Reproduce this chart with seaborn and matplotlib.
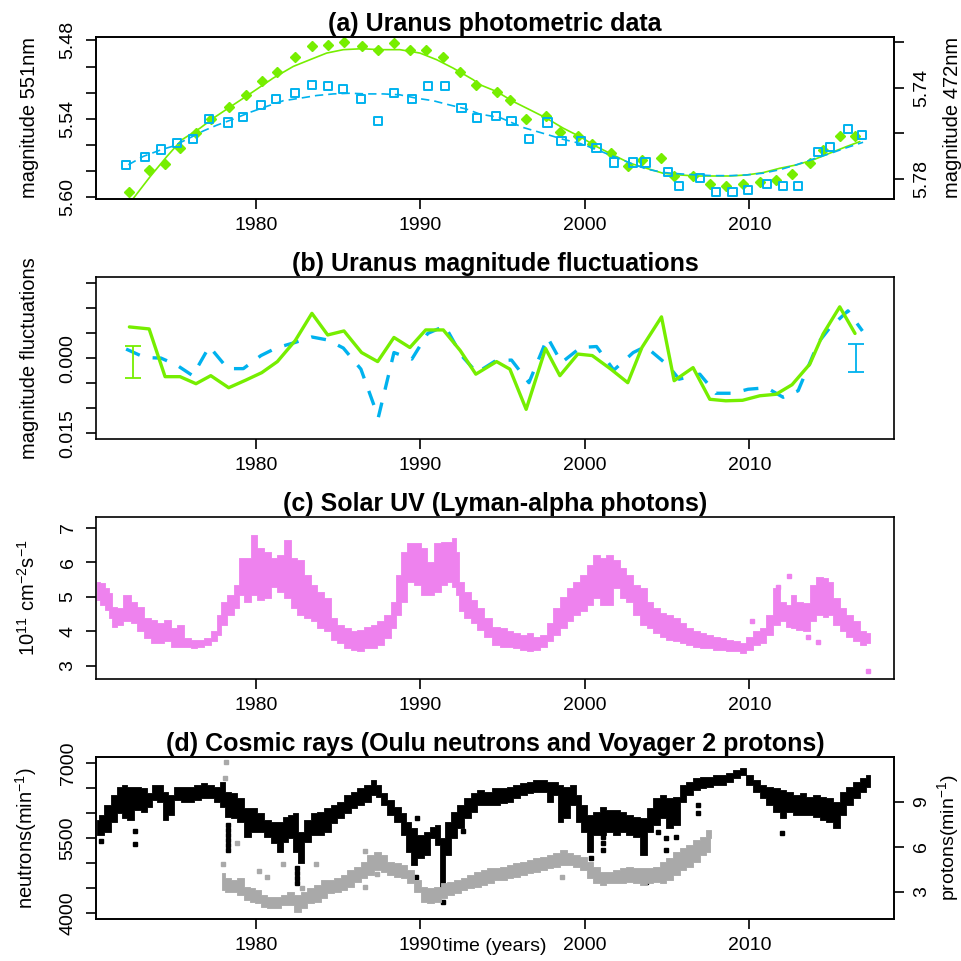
import matplotlib
matplotlib.use("Agg")
import matplotlib.pyplot as plt
import numpy as np
import seaborn as sns

GREEN = "#76EE00"
BLUE = "#00B2EE"
PINK = "#EE82EE"
GREY = "#A9A9A9"

XLIM = (1970.27, 2018.8)
XTICKS = [1980, 1990, 2000, 2010]

# ---------------- (a) Uranus photometric data ----------------
green_years = [1972.3, 1973.5, 1974.47, 1975.38, 1976.35, 1977.25, 1978.34, 1979.37, 1980.35, 1981.3,
               1982.39, 1983.4, 1984.36, 1985.35, 1986.42, 1987.4, 1988.39, 1989.36, 1990.32, 1991.39,
               1992.42, 1993.37, 1994.63, 1995.44, 1996.43, 1997.61, 1998.48, 1999.57, 2000.45, 2001.58,
               2002.61, 2003.47, 2004.66, 2005.43, 2006.58, 2007.6, 2008.57, 2009.59, 2010.64, 2011.63,
               2012.6, 2013.68, 2014.49, 2015.5, 2016.43]
green_mag = [5.596, 5.579, 5.5745, 5.562, 5.551, 5.540, 5.5313, 5.522, 5.5114, 5.5038,
             5.493, 5.484, 5.4838, 5.481, 5.484, 5.4871, 5.4823, 5.4871, 5.4871, 5.493,
             5.5038, 5.5145, 5.5196, 5.5254, 5.5402, 5.5377, 5.550, 5.553, 5.5589, 5.5663,
             5.576, 5.5714, 5.5699, 5.5837, 5.5834, 5.5896, 5.5911, 5.5896, 5.588, 5.5867,
             5.5819, 5.574, 5.5638, 5.5528, 5.5528]
blue_years = [1972.1, 1973.25, 1974.22, 1975.18, 1976.15, 1977.16, 1978.28, 1979.23, 1980.3, 1981.22,
              1982.37, 1983.39, 1984.36, 1985.31, 1986.38, 1987.44, 1988.39, 1989.48, 1990.44, 1991.49,
              1992.5, 1993.43, 1994.59, 1995.54, 1996.6, 1997.73, 1998.58, 1999.74, 2000.71, 2001.76,
              2002.94, 2003.69, 2005.07, 2005.73, 2006.99, 2007.96, 2008.98, 2009.93, 2011.05, 2012.06,
              2012.97, 2014.2, 2014.89, 2016.0, 2016.88]
blue_mag = [5.7742, 5.7706, 5.7672, 5.7645, 5.7627, 5.7538, 5.7553, 5.7528, 5.7476, 5.7449,
            5.7421, 5.7387, 5.7394, 5.7404, 5.7449, 5.7546, 5.7421, 5.7449, 5.7394, 5.7394,
            5.7489, 5.7534, 5.7526, 5.7546, 5.7626, 5.7553, 5.7636, 5.7636, 5.7664, 5.7729,
            5.7729, 5.7729, 5.777, 5.7831, 5.7798, 5.7859, 5.7859, 5.785, 5.7824, 5.7831,
            5.7831, 5.7682, 5.7662, 5.7583, 5.7608]

green_fit_years = [1972.5, 1973.56, 1974.57, 1975.48, 1976.6, 1977.4, 1978.62, 1979.84, 1981.05, 1982.27,
                   1983.28, 1984.3, 1985.31, 1986.43, 1987.54, 1988.75, 1989.97, 1990.99, 1991.99, 1993.21,
                   1993.62, 1994.63, 1995.64, 1996.66, 1997.67, 1998.68, 1999.7, 2000.71, 2001.72, 2002.74,
                   2003.75, 2004.76, 2005.78, 2006.79, 2007.8, 2008.81, 2009.83, 2010.84, 2011.85, 2012.87,
                   2013.88, 2014.89, 2015.91, 2016.72]
green_fit = [5.6015, 5.5842, 5.5689, 5.5561, 5.5471, 5.5395, 5.5293, 5.5191, 5.5088, 5.4999,
             5.4948, 5.4897, 5.4871, 5.4864, 5.4871, 5.4871, 5.4897, 5.4948, 5.5012, 5.5101,
             5.5139, 5.5191, 5.5267, 5.5331, 5.5395, 5.5471, 5.5536, 5.5612, 5.5676, 5.5739,
             5.5778, 5.5816, 5.5829, 5.5837, 5.5837, 5.5837, 5.5829, 5.5811, 5.5778, 5.5752,
             5.5714, 5.5663, 5.5612, 5.5574]
blue_fit_years = [1972.24, 1973.15, 1974.27, 1974.97, 1975.99, 1976.8, 1977.61, 1978.62, 1979.64, 1980.65,
                  1981.66, 1982.67, 1983.69, 1984.7, 1985.71, 1986.73, 1987.74, 1988.75, 1989.77, 1990.78,
                  1991.79, 1992.81, 1993.62, 1994.83, 1996.25, 1997.67, 1998.68, 1999.7, 2000.71, 2001.72,
                  2002.74, 2003.75, 2004.76, 2005.78, 2006.79, 2007.8, 2008.81, 2009.83, 2010.84, 2011.85,
                  2012.87, 2013.88, 2014.89, 2015.91, 2016.92]
blue_fit = [5.7739, 5.7702, 5.7672, 5.7657, 5.762, 5.759, 5.7565, 5.7538, 5.7508, 5.7482,
            5.7457, 5.7446, 5.7434, 5.7427, 5.7424, 5.7427, 5.7427, 5.7431, 5.7446, 5.7457,
            5.7476, 5.7494, 5.7516, 5.7531, 5.7575, 5.7605, 5.7627, 5.7645, 5.7672, 5.7702,
            5.7731, 5.7758, 5.7773, 5.7779, 5.7784, 5.7787, 5.7787, 5.7784, 5.7776, 5.7761,
            5.7739, 5.7714, 5.769, 5.7664, 5.764]

# ---------------- (b) magnitude fluctuations ----------------
green_fluct = [-0.0062, -0.0058, 0.0037, 0.0037, 0.0051, 0.0035, 0.0059, 0.0044, 0.0029, 0.0007,
               -0.0035, -0.0089, -0.0046, -0.0054, -0.0011, 0.0007, -0.0041, -0.0021, -0.0056, -0.0056,
               -0.0015, 0.0032, 0.0007, 0.0022, 0.0102, -0.0019, 0.0035, -0.0008, -0.0005, 0.0022,
               0.0049, -0.0021, -0.0082, 0.0045, 0.0019, 0.0082, 0.0085, 0.0084, 0.0075, 0.0072,
               0.0053, 0.0012, -0.0048, -0.0102, -0.0049]
blue_fluct = [-0.0018, -0.0001, 0.0000, 0.0014, 0.0035, -0.0023, 0.0021, 0.0021, -0.0005, -0.0020,
              -0.0031, -0.0042, -0.0036, -0.0020, 0.0022, 0.0118, -0.0011, 0.0002, -0.0049, -0.0064,
              -0.0005, 0.0029, 0.0005, 0.0004, 0.0049, -0.0041, 0.0009, -0.0021, -0.0023, 0.0024,
              -0.0011, -0.0023, 0.0015, 0.0042, 0.0032, 0.0070, 0.0070, 0.0062, 0.0059, 0.0078,
              0.0065, -0.0031, -0.0060, -0.0094, -0.0054]
err_green = (1972.5, 0.00075, 0.00315)   # year, centre, half width
err_blue = (2016.5, -0.0001, 0.0028)

# ---------------- (c) Solar UV, Lyman-alpha (band envelope) ----------------
uv_years = [1970.35, 1970.66, 1970.96, 1971.17, 1971.37, 1971.67, 1972.18, 1972.58, 1972.99, 1973.39,
            1973.80, 1974.21, 1974.61, 1975.02, 1975.42, 1975.83, 1976.23, 1976.64, 1977.04, 1977.45,
            1977.75, 1978.05, 1978.46, 1978.87, 1979.07, 1979.47, 1979.88, 1980.28, 1980.69, 1981.09,
            1981.50, 1981.90, 1982.31, 1982.72, 1983.12, 1983.53, 1983.93, 1984.34, 1984.74, 1985.15,
            1985.55, 1985.96, 1986.36, 1986.77, 1987.17, 1987.58, 1987.98, 1988.39, 1988.69, 1989.00,
            1989.40, 1989.81, 1990.21, 1990.62, 1991.02, 1991.43, 1991.83, 1992.04, 1992.24, 1992.44,
            1992.85, 1993.25, 1993.66, 1994.06, 1994.63, 1995.04, 1995.44, 1995.85, 1996.25, 1996.66,
            1997.06, 1997.47, 1997.87, 1998.28, 1998.68, 1999.09, 1999.49, 1999.90, 2000.30, 2000.71,
            2001.11, 2001.52, 2001.92, 2002.33, 2002.73, 2003.14, 2003.55, 2003.95, 2004.36, 2004.76,
            2005.17, 2005.57, 2005.98, 2006.38, 2006.79, 2007.19, 2007.60, 2008.00, 2008.41, 2008.81,
            2009.22, 2009.63, 2010.03, 2010.44, 2010.84, 2011.25, 2011.65, 2012.06, 2012.46, 2012.66,
            2013.07, 2013.48, 2013.88, 2014.29, 2014.69, 2014.89, 2015.30, 2015.70, 2016.11, 2016.51,
            2016.92, 2017.33]
uv_high = [5.44, 5.39, 5.24, 5.10, 4.71, 4.66, 5.05, 4.86, 4.71, 4.37,
           4.32, 4.23, 4.32, 4.08, 4.18, 3.79, 3.74, 3.74, 3.79, 3.99,
           4.47, 4.86, 5.05, 5.34, 6.11, 6.11, 6.79, 6.40, 6.31, 6.11,
           6.21, 6.64, 6.11, 6.06, 5.63, 5.34, 5.15, 4.95, 4.37, 4.18,
           4.08, 3.99, 4.03, 4.13, 4.18, 4.28, 4.47, 4.86, 5.63, 6.31,
           6.55, 6.55, 6.40, 6.02, 6.55, 6.60, 6.60, 6.69, 6.31, 5.44,
           5.15, 4.90, 4.66, 4.37, 4.13, 4.08, 3.99, 3.94, 3.89, 3.94,
           3.84, 3.89, 4.23, 4.66, 5.00, 5.24, 5.44, 5.63, 5.92, 6.21,
           6.11, 6.21, 6.06, 5.82, 5.63, 5.34, 5.24, 4.86, 4.66, 4.52,
           4.47, 4.37, 4.23, 4.08, 3.99, 3.94, 3.89, 3.84, 3.79, 3.74,
           3.70, 3.65, 3.84, 3.99, 4.08, 4.47, 5.24, 4.86, 4.76, 5.05,
           4.86, 4.81, 5.34, 5.58, 5.53, 5.44, 4.95, 4.66, 4.47, 4.28,
           3.99, 3.94]
uv_low = [4.90, 4.76, 4.61, 4.37, 4.13, 4.18, 4.28, 4.23, 3.99, 3.79,
          3.65, 3.65, 3.70, 3.55, 3.55, 3.55, 3.52, 3.55, 3.60, 3.70,
          3.89, 4.18, 4.47, 4.66, 5.05, 4.86, 5.05, 4.90, 4.95, 5.29,
          5.15, 4.95, 4.66, 4.47, 4.37, 4.28, 4.08, 3.99, 3.74, 3.65,
          3.50, 3.46, 3.43, 3.50, 3.50, 3.60, 3.79, 4.08, 4.47, 4.86,
          5.44, 5.34, 5.05, 5.05, 5.15, 5.34, 5.44, 5.29, 5.05, 4.57,
          4.37, 4.23, 4.03, 3.84, 3.60, 3.55, 3.55, 3.50, 3.46, 3.41,
          3.46, 3.55, 3.70, 3.89, 4.08, 4.28, 4.47, 4.57, 4.76, 4.95,
          4.76, 4.76, 5.24, 4.95, 4.86, 4.47, 4.18, 4.08, 3.94, 3.84,
          3.74, 3.70, 3.65, 3.60, 3.55, 3.52, 3.50, 3.46, 3.46, 3.43,
          3.41, 3.36, 3.46, 3.60, 3.65, 3.89, 4.18, 4.28, 4.13, 4.08,
          4.03, 3.99, 4.28, 4.47, 4.42, 4.47, 4.18, 3.99, 3.84, 3.70,
          3.60, 3.65]
uv_odd_years = [2012.43, 2011.75, 2010.17, 2013.58, 2014.18, 2017.22]
uv_odd = [5.60, 5.27, 4.29, 3.84, 3.68, 2.85]

# ---------------- (d) Oulu neutrons (envelope) and Voyager 2 protons ----------------
neutron_years = [1970.35, 1970.56, 1970.96, 1971.37, 1971.67, 1971.98, 1972.38, 1972.79, 1973.19, 1973.50,
                 1973.80, 1974.21, 1974.51, 1974.81, 1975.22, 1975.62, 1976.03, 1976.43, 1976.84, 1977.24,
                 1977.65, 1977.95, 1978.26, 1978.66, 1979.07, 1979.47, 1979.88, 1980.28, 1980.69, 1981.09,
                 1981.50, 1981.80, 1982.11, 1982.41, 1982.72, 1983.12, 1983.53, 1983.93, 1984.34, 1984.74,
                 1985.15, 1985.55, 1985.96, 1986.36, 1986.77, 1987.17, 1987.48, 1987.78, 1988.19, 1988.59,
                 1989.00, 1989.30, 1989.61, 1990.01, 1990.42, 1990.72, 1991.02, 1991.33, 1991.63, 1992.04,
                 1992.44, 1992.85, 1993.25, 1993.66, 1994.06, 1994.63, 1995.04, 1995.44, 1995.85, 1996.25,
                 1996.66, 1997.06, 1997.47, 1997.87, 1998.28, 1998.48, 1998.89, 1999.29, 1999.59, 1999.90,
                 2000.30, 2000.71, 2001.11, 2001.52, 2001.92, 2002.33, 2002.73, 2003.14, 2003.55, 2003.95,
                 2004.36, 2004.76, 2005.17, 2005.57, 2005.98, 2006.38, 2006.79, 2007.19, 2007.60, 2008.00,
                 2008.41, 2008.81, 2009.22, 2009.63, 2010.03, 2010.44, 2010.84, 2011.25, 2011.65, 2012.06,
                 2012.46, 2012.87, 2013.27, 2013.68, 2014.08, 2014.49, 2014.89, 2015.30, 2015.70, 2016.11,
                 2016.51, 2016.92, 2017.33]
neutron_high = [5866, 5966, 6166, 6366, 6533, 6566, 6533, 6533, 6499, 6399,
                6566, 6566, 6433, 6366, 6533, 6533, 6533, 6566, 6599, 6566,
                6533, 6633, 6433, 6399, 6299, 6099, 6099, 5999, 5866, 5833,
                5833, 5933, 5966, 5999, 5633, 5866, 5999, 6033, 6099, 6166,
                6233, 6366, 6433, 6499, 6566, 6666, 6566, 6399, 6266, 6133,
                5999, 5833, 5699, 5566, 5633, 5733, 5766, 5499, 5833, 6033,
                6166, 6299, 6399, 6466, 6433, 6499, 6499, 6533, 6566, 6599,
                6633, 6666, 6666, 6633, 6633, 6566, 6533, 6566, 6366, 6166,
                5966, 6033, 6133, 6066, 6066, 6033, 5966, 5933, 5899, 6099,
                6299, 6366, 6299, 6333, 6566, 6633, 6699, 6733, 6733, 6766,
                6766, 6799, 6866, 6899, 6766, 6666, 6566, 6533, 6499, 6466,
                6433, 6366, 6399, 6333, 6366, 6333, 6299, 6233, 6433, 6533,
                6633, 6699, 6766]
neutron_low = [5566, 5566, 5633, 5833, 5999, 5899, 5866, 6066, 6033, 6133,
               6266, 6233, 5866, 5966, 6266, 6233, 6233, 6266, 6299, 6299,
               6233, 6133, 5933, 5899, 5833, 5533, 5633, 5633, 5533, 5399,
               5233, 5433, 5499, 5233, 4999, 5433, 5566, 5566, 5633, 5799,
               5899, 5999, 6099, 6166, 6233, 6366, 6333, 6166, 5966, 5833,
               5566, 5233, 4966, 5099, 5166, 5499, 5366, 4533, 5166, 5499,
               5699, 5899, 6033, 6166, 6166, 6166, 6199, 6233, 6299, 6366,
               6399, 6433, 6433, 6233, 6366, 5833, 5899, 6166, 5833, 5633,
               5233, 5566, 5566, 5633, 5566, 5633, 5566, 5533, 5166, 5633,
               5766, 5899, 5699, 5766, 6233, 6366, 6466, 6499, 6533, 6566,
               6566, 6633, 6699, 6766, 6566, 6433, 6299, 6166, 6033, 5899,
               6033, 5966, 5966, 5966, 5933, 5866, 5833, 5699, 5966, 6166,
               6299, 6433, 6533]
neutron_odd_years = [1970.6, 1972.66, 1972.66, 1978.32, 1978.32, 1978.32, 1978.32, 1978.32, 1978.32,
                     1982.51, 1982.51, 1982.51, 1982.51, 1989.71, 1991.39, 1991.43, 1992.6, 1989.77,
                     2001.11, 2001.11, 2001.11, 2000.4, 2004.92, 2004.92, 2005.53, 2006.89, 2006.89,
                     2012.0, 2003.71, 2004.46]
neutron_odd = [5446, 5653, 5379, 5766, 5666, 5566, 5466, 5366, 5266,
               4899, 4799, 4699, 4599, 4733, 4233, 5379, 5646, 5913,
               5533, 5399, 5266, 5099, 5266, 5499, 5533, 5999, 6166,
               5613, 4633, 5633]

proton_years = [1977.95, 1978.26, 1978.66, 1979.07, 1979.47, 1979.78, 1980.08, 1980.49, 1980.89, 1981.30,
                1981.70, 1982.11, 1982.51, 1982.92, 1983.32, 1983.73, 1984.13, 1984.54, 1984.94, 1985.35,
                1985.76, 1986.16, 1986.57, 1986.97, 1987.38, 1987.78, 1988.19, 1988.59, 1989.00, 1989.40,
                1989.81, 1990.21, 1990.62, 1991.02, 1991.43, 1991.83, 1992.24, 1992.64, 1993.05, 1993.46,
                1993.86, 1994.27, 1994.63, 1995.04, 1995.44, 1995.85, 1996.25, 1996.66, 1997.06, 1997.47,
                1997.87, 1998.28, 1998.68, 1999.09, 1999.49, 1999.90, 2000.30, 2000.71, 2001.11, 2001.52,
                2001.92, 2002.33, 2002.73, 2003.14, 2003.55, 2003.95, 2004.36, 2004.76, 2005.17, 2005.57,
                2005.98, 2006.38, 2006.79, 2007.19, 2007.50, 2007.70]
proton_high = [4.22, 3.89, 3.78, 3.89, 3.34, 3.22, 3.11, 2.78, 2.67, 2.67,
               2.78, 3.00, 2.78, 3.00, 3.22, 3.45, 3.78, 3.78, 3.89, 4.11,
               4.45, 4.67, 5.00, 5.45, 5.67, 5.45, 5.00, 4.89, 4.78, 4.45,
               3.78, 3.34, 3.22, 3.34, 3.56, 3.67, 3.78, 3.89, 4.11, 4.34,
               4.45, 4.56, 4.56, 4.67, 4.78, 4.89, 5.00, 5.11, 5.22, 5.34,
               5.45, 5.56, 5.78, 5.56, 5.45, 5.34, 5.00, 4.67, 4.34, 4.34,
               4.45, 4.56, 4.67, 4.56, 4.56, 4.56, 4.67, 5.00, 5.22, 5.67,
               5.89, 6.11, 6.45, 6.67, 7.11, 7.11]
proton_low = [3.11, 3.00, 3.00, 2.78, 2.45, 2.34, 2.22, 2.00, 1.89, 1.89,
              2.11, 2.11, 1.67, 1.89, 2.22, 2.34, 2.56, 2.89, 3.00, 3.11,
              3.34, 3.67, 3.89, 4.11, 4.45, 4.34, 4.11, 4.00, 3.89, 3.56,
              3.00, 2.34, 2.22, 2.34, 2.56, 2.78, 2.89, 3.11, 3.22, 3.34,
              3.45, 3.56, 3.78, 3.78, 3.89, 4.00, 4.11, 4.22, 4.34, 4.45,
              4.56, 4.67, 4.78, 4.78, 4.67, 4.45, 3.89, 3.56, 3.45, 3.56,
              3.56, 3.56, 3.67, 3.56, 3.45, 3.56, 3.67, 3.56, 3.78, 4.11,
              4.45, 4.67, 5.00, 5.45, 5.67, 6.56]
proton_odd_years = [1978.16, 1978.12, 1978.87, 1978.01, 1980.18, 1980.65, 1981.66, 1983.63, 1986.63,
                    1986.61, 1987.38, 1982.82, 1998.58]
proton_odd = [11.62, 10.56, 6.27, 4.82, 4.40, 4.00, 4.82, 4.82, 5.71, 3.34, 4.18, 3.22, 4.00]


sns.set_theme(style="ticks", rc={"axes.edgecolor": "black", "xtick.color": "black",
                                 "ytick.color": "black", "axes.linewidth": 1.2,
                                 "text.color": "black", "axes.labelcolor": "black"})
plt.rcParams["font.family"] = ["Liberation Sans", "DejaVu Sans"]
plt.rcParams["mathtext.fontset"] = "custom"
plt.rcParams["mathtext.rm"] = "Liberation Sans"

TICK_FS = 14
LAB_FS = 14.5
TITLE_FS = 18


def style_axis(ax, title):
    ax.set_xlim(*XLIM)
    ax.set_xticks(XTICKS, [str(t) for t in XTICKS])
    ax.set_title(title, fontsize=TITLE_FS, fontweight="bold", pad=4)
    ax.tick_params(axis="x", length=7, width=1.2, pad=6, labelsize=TICK_FS, direction="out")
    ax.set_xlabel("")
    for s in ax.spines.values():
        s.set_visible(True)
        s.set_linewidth(1.2)
        s.set_color("black")


def yticks(ax, ticks, labels, side="left"):
    # R style: tick labels written parallel to the axis
    va = "bottom" if side == "left" else "top"
    ax.set_yticks(ticks, labels, fontsize=TICK_FS)
    ax.tick_params(axis="y", length=7, width=1.2, pad=7, direction="out")
    for lab in ax.get_yticklabels():
        lab.set_rotation(90)
        lab.set_rotation_mode("anchor")
        lab.set_ha("center")
        lab.set_va(va)


fig = plt.figure(figsize=(9.62, 9.61), dpi=100)
L, W, H = 0.0998, 0.8295, 0.1689
axa = fig.add_axes([L, 0.7929, W, H])
axb = fig.add_axes([L, 0.5432, W, H])
axc = fig.add_axes([L, 0.2934, W, H])
axd = fig.add_axes([L, 0.0437, W, H])

# (a)
sns.lineplot(x=green_fit_years, y=green_fit, ax=axa, color=GREEN, lw=1.2)
axa.plot(green_years, green_mag, "D", color=GREEN, ms=5.5, mec=GREEN)
axa.set_ylim(5.6013, 5.4772)
style_axis(axa, "(a) Uranus photometric data")
yticks(axa, [5.48, 5.50, 5.52, 5.54, 5.56, 5.58, 5.60], ["5.48", "", "", "5.54", "", "", "5.60"])
axa.set_ylabel("magnitude 551nm", fontsize=LAB_FS)
axa.yaxis.set_label_coords(-0.072, 0.5)
axa2 = axa.twinx()
sns.lineplot(x=blue_fit_years, y=blue_fit, ax=axa2, color=BLUE, lw=1.2, linestyle=(0, (5, 3)))
axa2.scatter(blue_years, blue_mag, marker="s", s=34, facecolors="none", edgecolors=BLUE, linewidths=1.4)
axa2.set_ylim(5.789, 5.7175)
yticks(axa2, [5.72, 5.74, 5.76, 5.78], ["", "5.74", "", "5.78"], side="right")
axa2.set_ylabel("magnitude 472nm", fontsize=LAB_FS)
axa2.yaxis.set_label_coords(1.0614, 0.5)
for s in axa2.spines.values():
    s.set_linewidth(1.2)

# (b)
sns.lineplot(x=blue_years, y=blue_fluct, ax=axb, color=BLUE, lw=2.4, linestyle=(0, (4.5, 4)))
sns.lineplot(x=green_years, y=green_fluct, ax=axb, color=GREEN, lw=2.4)
axb.errorbar([err_green[0]], [err_green[1]], yerr=[err_green[2]], color=GREEN, capsize=5.5, lw=1.3, capthick=1.3)
axb.errorbar([err_blue[0]], [err_blue[1]], yerr=[err_blue[2]], color=BLUE, capsize=5.5, lw=1.3, capthick=1.3)
axb.set_ylim(0.0161, -0.0162)
style_axis(axb, "(b) Uranus magnitude fluctuations")
yticks(axb, [-0.015, -0.010, -0.005, 0.0, 0.005, 0.010, 0.015], ["", "", "", "0.000", "", "", "0.015"])
axb.set_ylabel("magnitude fluctuations", fontsize=LAB_FS)
axb.yaxis.set_label_coords(-0.072, 0.5)

# (c)
axc.fill_between(uv_years, uv_low, uv_high, step="mid", color=PINK, lw=0.6, edgecolor=PINK)
axc.plot(uv_odd_years, uv_odd, "s", color=PINK, ms=2.5)
axc.set_ylim(2.61, 7.32)
style_axis(axc, "(c) Solar UV (Lyman-alpha photons)")
yticks(axc, [3, 4, 5, 6, 7], ["3", "4", "5", "6", "7"])
axc.set_ylabel(r"$\mathregular{10^{11}\ cm^{-2}s^{-1}}$", fontsize=LAB_FS)
axc.yaxis.set_label_coords(-0.072, 0.5)

# (d)
axd.fill_between(neutron_years, neutron_low, neutron_high, step="mid", color="black", lw=0.6, edgecolor="black")
axd.plot(neutron_odd_years, neutron_odd, "s", color="black", ms=2.5)
axd.set_ylim(3886, 7132)
style_axis(axd, "(d) Cosmic rays (Oulu neutrons and Voyager 2 protons)")
yticks(axd, [4000, 4500, 5000, 5500, 6000, 6500, 7000], ["4000", "", "", "5500", "", "", "7000"])
axd.set_ylabel(r"neutrons(min$\mathregular{^{-1}}$)", fontsize=LAB_FS)
axd.yaxis.set_label_coords(-0.072, 0.5)
axd.set_xlabel("time (years)", fontsize=TICK_FS)
axd.xaxis.set_label_coords(0.5, -0.115)
axd2 = axd.twinx()
axd2.fill_between(proton_years, proton_low, proton_high, step="mid", color=GREY, lw=0.6, edgecolor=GREY)
axd2.plot(proton_odd_years, proton_odd, "s", color=GREY, ms=2.5)
axd2.set_ylim(1.18, 12.0)
yticks(axd2, [3, 6, 9], ["3", "6", "9"], side="right")
axd2.set_ylabel(r"protons(min$\mathregular{^{-1}}$)", fontsize=14)
axd2.yaxis.set_label_coords(1.052, 0.5)
for s in axd2.spines.values():
    s.set_linewidth(1.2)

fig.savefig("out.png", dpi=100)
